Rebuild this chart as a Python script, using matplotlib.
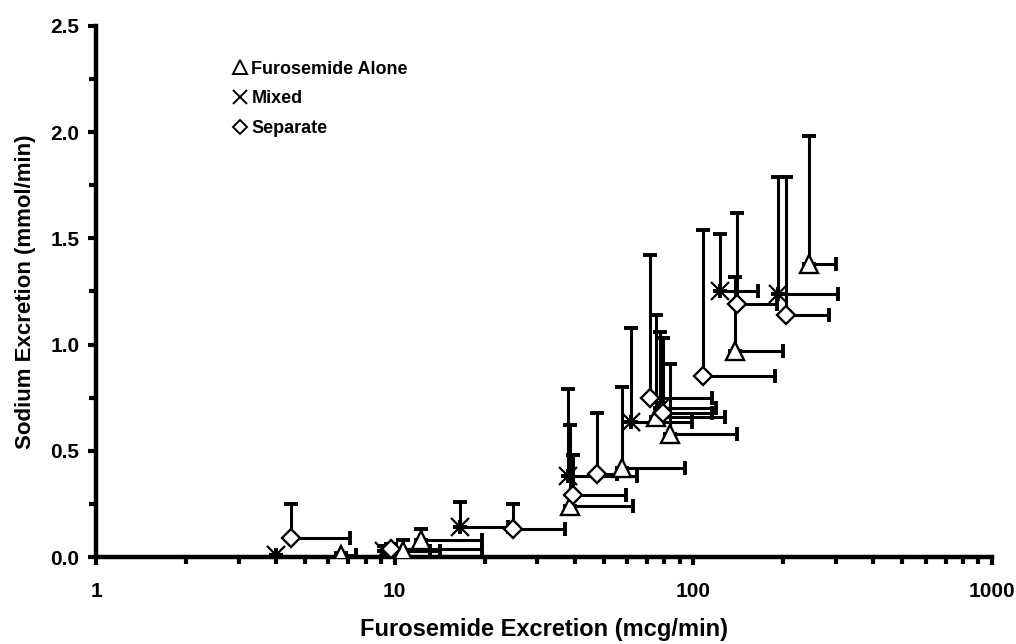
import matplotlib
matplotlib.use('Agg')
import matplotlib.pyplot as plt
from matplotlib.lines import Line2D
from matplotlib.ticker import FixedLocator, FuncFormatter, MultipleLocator, LogLocator

plt.rcParams['font.family'] = ['Liberation Sans', 'DejaVu Sans']
plt.rcParams['font.weight'] = 'bold'

# Furosemide alone (triangles)
alone_x = [6.6, 10.7, 12.2, 38.6, 57.5, 75, 83.5, 138, 243]
alone_y = [0.01, 0.03, 0.08, 0.24, 0.42, 0.66, 0.58, 0.97, 1.38]
alone_top = [0.02, 0.08, 0.13, 0.62, 0.80, 1.14, 0.91, 1.32, 1.98]
alone_right = [7.4, 14.2, 19.6, 63, 94, 128, 140, 200, 300]

# Mixed (crosses)
mixed_x = [4.0, 9.2, 16.5, 38.1, 62, 77, 123, 192]
mixed_y = [0.01, 0.03, 0.14, 0.38, 0.635, 0.70, 1.25, 1.24]
mixed_top = [0.01, 0.05, 0.26, 0.79, 1.08, 1.06, 1.52, 1.79]
mixed_right = [4.0, 13.1, 24, 64.6, 98.7, 119, 164, 305]

# Separate (diamonds)
sep_x = [4.5, 9.7, 24.9, 39.6, 47.5, 71.6, 79, 108, 140, 204]
sep_y = [0.09, 0.04, 0.13, 0.29, 0.39, 0.75, 0.68, 0.85, 1.19, 1.14]
sep_top = [0.25, 0.06, 0.25, 0.48, 0.68, 1.42, 1.03, 1.54, 1.62, 1.79]
sep_right = [7.1, 19.6, 37.2, 59.5, 55.4, 115, 115, 187, 190, 285]

x_ticks = [1, 10, 100, 1000]
y_ticks = [0.0, 0.5, 1.0, 1.5, 2.0, 2.5]


def draw_group(ax, xs, ys, top, right, marker, ms, mew):
    yerr = [[0] * len(ys), [t - y for t, y in zip(top, ys)]]
    xerr = [[0] * len(xs), [r - x for r, x in zip(right, xs)]]
    ax.errorbar(xs, ys, yerr=yerr, xerr=xerr, fmt='none', ecolor='black',
                elinewidth=2.2, capsize=5, capthick=2.8, zorder=2)
    ax.plot(xs, ys, linestyle='none', marker=marker, markersize=ms,
            markerfacecolor='white', markeredgecolor='black',
            markeredgewidth=mew, zorder=3)


fig = plt.figure(figsize=(10.16, 6.44), dpi=100)
ax = fig.add_axes([0.0945, 0.135, 0.882, 0.825])

draw_group(ax, alone_x, alone_y, alone_top, alone_right, '^', 13, 1.7)
draw_group(ax, mixed_x, mixed_y, mixed_top, mixed_right, 'x', 13, 1.6)
draw_group(ax, sep_x, sep_y, sep_top, sep_right, 'D', 9.5, 1.7)

ax.set_xscale('log')
ax.set_xlim(1, 1000)
ax.set_ylim(0, 2.5)

ax.xaxis.set_major_locator(FixedLocator(x_ticks))
ax.xaxis.set_minor_locator(LogLocator(base=10, subs=range(2, 10)))
ax.xaxis.set_major_formatter(FuncFormatter(lambda v, p: '%d' % v))
ax.yaxis.set_major_locator(FixedLocator(y_ticks))
ax.yaxis.set_minor_locator(MultipleLocator(0.25))
ax.yaxis.set_major_formatter(FuncFormatter(lambda v, p: '%.1f' % v))

for s in ['top', 'right']:
    ax.spines[s].set_visible(False)
for s in ['left', 'bottom']:
    ax.spines[s].set_linewidth(3.2)

ax.tick_params(which='major', direction='out', length=6, width=3,
               labelsize=15, pad=6)
ax.tick_params(which='minor', direction='out', length=5, width=3)
ax.tick_params(axis='x', which='major', pad=12)

ax.set_xlabel('Furosemide Excretion (mcg/min)', fontsize=17, fontweight='bold', labelpad=12)
ax.set_ylabel('Sodium Excretion (mmol/min)', fontsize=16, fontweight='bold', labelpad=10)

handles = [
    Line2D([], [], linestyle='none', marker='^', markersize=10, markerfacecolor='white',
           markeredgecolor='black', markeredgewidth=1.4),
    Line2D([], [], linestyle='none', marker='x', markersize=10, markerfacecolor='white',
           markeredgecolor='black', markeredgewidth=1.4),
    Line2D([], [], linestyle='none', marker='D', markersize=7, markerfacecolor='white',
           markeredgecolor='black', markeredgewidth=1.4),
]
ax.legend(handles, ['Furosemide Alone', 'Mixed', 'Separate'], loc='upper left',
          bbox_to_anchor=(0.135, 0.965), frameon=False, handlelength=0.8,
          handletextpad=0.2, labelspacing=0.7, prop={'size': 13, 'weight': 'bold'})

plt.savefig('out.png', dpi=100)
plt.close()
